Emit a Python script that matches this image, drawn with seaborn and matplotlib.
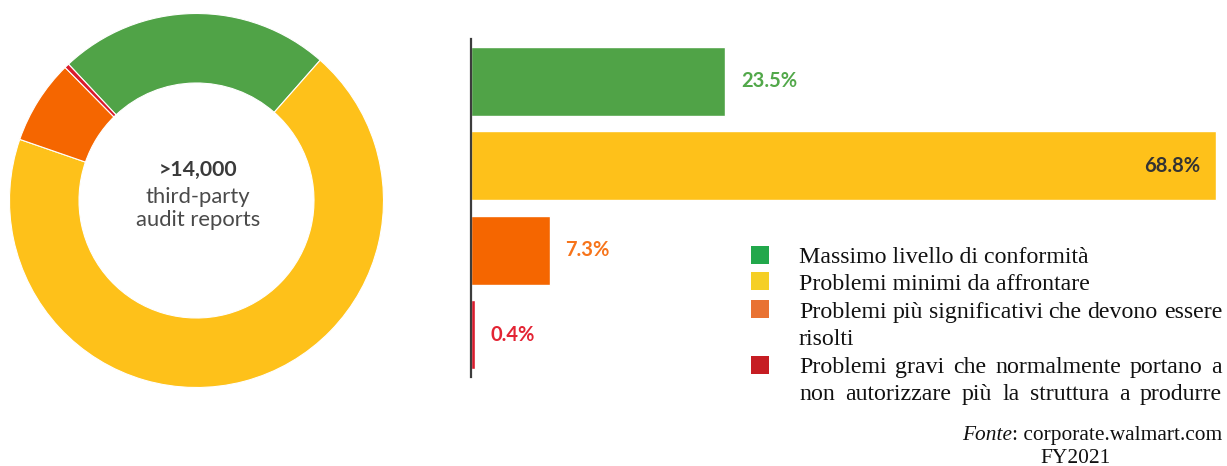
import matplotlib
matplotlib.use("Agg")
import matplotlib.pyplot as plt
from matplotlib.patches import Rectangle
import seaborn as sns
import pandas as pd

# --- data ---------------------------------------------------------------
categories = [
    "Massimo livello di conformità",
    "Problemi minimi da affrontare",
    "Problemi più significativi che devono essere risolti",
    "Problemi gravi che normalmente portano a non autorizzare più la struttura a produrre",
]
shares = [23.5, 68.8, 7.3, 0.4]
value_labels = ["23.5%", "68.8%", "7.3%", "0.4%"]
center_title = ">14,000"
center_sub = ["third-party", "audit reports"]
legend_lines = [
    ["Massimo livello di conformità"],
    ["Problemi minimi da affrontare"],
    ["Problemi più significativi che devono essere", "risolti"],
    ["Problemi gravi che normalmente portano a",
     "non autorizzare più la struttura a produrre"],
]
source_label = "Fonte"
source_text = ": corporate.walmart.com"
source_year = "FY2021"

# --- styling ------------------------------------------------------------
chart_colors = ["#50A347", "#FEC11A", "#F56600", "#DA1B2C"]
label_colors = ["#52A84A", "#333333", "#F7741A", "#E32434"]
legend_colors = ["#22A84B", "#F5CF25", "#E97232", "#C61D23"]

W, H = 1227, 466
sns.set_style("white")
plt.rcParams["font.family"] = ["Lato", "DejaVu Sans"]

fig = plt.figure(figsize=(W / 100, H / 100), dpi=100)
fig.patch.set_facecolor("white")


def fx(px):
    return px / W


def fy(py):
    return 1 - py / H


# --- donut ----------------------------------------------------------------
cx, cy, r_out, r_in = 196.5, 200.5, 187.0, 117.5
ax_pie = fig.add_axes([fx(cx - r_out), fy(cy + r_out), 2 * r_out / W, 2 * r_out / H])
ax_pie.pie(
    shares,
    colors=chart_colors,
    startangle=133.2,
    counterclock=False,
    radius=1.0,
    wedgeprops=dict(width=1 - r_in / r_out, edgecolor="white", linewidth=0.8),
)
ax_pie.set_xlim(-1, 1)
ax_pie.set_ylim(-1, 1)
ax_pie.set_aspect("equal")
ax_pie.axis("off")

fig.text(fx(198), fy(176), center_title, ha="center", va="baseline",
         fontsize=15.3, fontweight="bold", color="#3a3a3a")
for txt, base in zip(center_sub, [203, 226]):
    fig.text(fx(198), fy(base), txt, ha="center", va="baseline",
             fontsize=15.8, color="#4a4a4a")

# --- horizontal bars ------------------------------------------------------
px_per_pct = 10.836
ax_left, ax_top, ax_bottom = 470.5, 39, 377
ax_bar = fig.add_axes([fx(ax_left), fy(ax_bottom), (W - ax_left) / W,
                       (ax_bottom - ax_top) / H])
df = pd.DataFrame({"categoria": categories, "quota": shares})
sns.barplot(data=df, x="quota", y="categoria", hue="categoria",
            palette=chart_colors, orient="h", width=0.815, legend=False,
            saturation=1, ax=ax_bar)
ax_bar.set_xlim(0, (W - ax_left) / px_per_pct)
ax_bar.set_ylim(len(categories) - 0.5, -0.5)
ax_bar.set_xlabel("")
ax_bar.set_ylabel("")
ax_bar.set_xticks([])
ax_bar.set_yticks([])
for side in ["top", "right", "bottom"]:
    ax_bar.spines[side].set_visible(False)
ax_bar.spines["left"].set_color("#3c3c3c")
ax_bar.spines["left"].set_linewidth(1.6)
ax_bar.set_facecolor("none")

pad = 16 * 72 / 100
for i, (v, lab, col) in enumerate(zip(shares, value_labels, label_colors)):
    inside = v > 50
    ax_bar.annotate(lab, xy=(v, i), xytext=(-pad if inside else pad, 0),
                    textcoords="offset points", ha="right" if inside else "left",
                    va="center", fontsize=14.5, fontweight="bold", color=col)

# --- legend ---------------------------------------------------------------
serif = ["Liberation Serif", "DejaVu Serif"]
text_left, text_right = 799, 1222
leg_size = 17.2
square_tops = [246, 272, 300, 356]
for top, col in zip(square_tops, legend_colors):
    fig.patches.append(Rectangle((fx(751), fy(top + 18)), 18 / W, 18 / H,
                                 transform=fig.transFigure, facecolor=col,
                                 edgecolor="none"))

baselines = [263, 290, 318, 345, 373, 400]
lines = []
for entry in legend_lines:
    for j, line in enumerate(entry):
        justify = (len(entry) > 1) and (j == 0 or len(entry[-1].split()) > 2)
        lines.append((line, justify))

fig.canvas.draw()
renderer = fig.canvas.get_renderer()
for (line, justify), base in zip(lines, baselines):
    if not justify:
        fig.text(fx(text_left), fy(base), line, ha="left", va="baseline",
                 fontsize=leg_size, family=serif, color="#111111")
        continue
    words = line.split()
    objs = [fig.text(0, fy(base), w, ha="left", va="baseline",
                     fontsize=leg_size, family=serif, color="#111111")
            for w in words]
    widths = [o.get_window_extent(renderer).width for o in objs]
    gap = (text_right - text_left - sum(widths)) / (len(words) - 1)
    x = text_left
    for o, w in zip(objs, widths):
        o.set_x(fx(x))
        x += w + gap

# --- source ---------------------------------------------------------------
src_size = 15.4
t_src = fig.text(fx(text_right), fy(440), source_text, ha="right", va="baseline",
                 fontsize=src_size, family=serif, color="#111111")
w_src = t_src.get_window_extent(renderer).width
fig.text(fx(text_right - w_src), fy(440), source_label, ha="right",
         va="baseline", fontsize=src_size, family=serif, style="italic",
         color="#111111")
fig.text(fx(1076), fy(463), source_year, ha="center", va="baseline",
         fontsize=src_size, family=serif, color="#111111")

fig.savefig("out.png", dpi=100, facecolor="white")
